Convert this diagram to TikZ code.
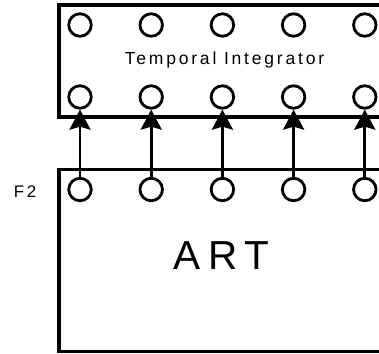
\documentclass[tikz,border=0pt]{standalone}
\usepackage{fontspec}
\setmainfont{Liberation Sans}
\newfontfamily\trackfont[LetterSpace=16]{Liberation Sans}
\newfontfamily\widefont[LetterSpace=20]{Liberation Sans}
\usetikzlibrary{arrows.meta}

\begin{document}
\begin{tikzpicture}[x=1pt, y=-1pt,
  layer/.style={line width=3.3pt},
  unit/.style={circle, draw, line width=2.8pt, minimum size=22.5pt, inner sep=0pt},
  feed/.style={line width=2.8pt, -{Stealth[length=20pt, width=21pt, inset=3pt]}}]

\clip (0,0) rectangle (379,353);

% Layers
\draw[layer] (59,5) rectangle (400,117);
\draw[layer] (59,169.5) rectangle (400,351.5);

% Temporal integrator, upper row
\node[unit] (t1) at (80,25) {};
\node[unit] (t2) at (151.2,25) {};
\node[unit] (t3) at (222.4,25) {};
\node[unit] (t4) at (293.6,25) {};
\node[unit] (t5) at (364.8,25) {};

% Temporal integrator, input row
\node[unit] (i1) at (80,97) {};
\node[unit] (i2) at (151.2,97) {};
\node[unit] (i3) at (222.4,97) {};
\node[unit] (i4) at (293.6,97) {};
\node[unit] (i5) at (364.8,97) {};

% F2 units
\node[unit] (f1) at (80,189.5) {};
\node[unit] (f2) at (151.2,189.5) {};
\node[unit] (f3) at (222.4,189.5) {};
\node[unit] (f4) at (293.6,189.5) {};
\node[unit] (f5) at (364.8,189.5) {};

% F2 -> integrator
\draw[feed] (f1) -- (i1);
\draw[feed] (f2) -- (i2);
\draw[feed] (f3) -- (i3);
\draw[feed] (f4) -- (i4);
\draw[feed] (f5) -- (i5);

% Labels
\node[anchor=base] (tilabel) at (224.5,64.3) {\trackfont\fontsize{17.5}{19}\selectfont Temporal Integrator};
\node[anchor=base] (artlabel) at (221.5,269.3) {\widefont\fontsize{40.5}{42}\selectfont ART};
\node[anchor=base] (f2label) at (25,197.7) {\trackfont\fontsize{16.8}{18}\selectfont F2};

\end{tikzpicture}
\end{document}
